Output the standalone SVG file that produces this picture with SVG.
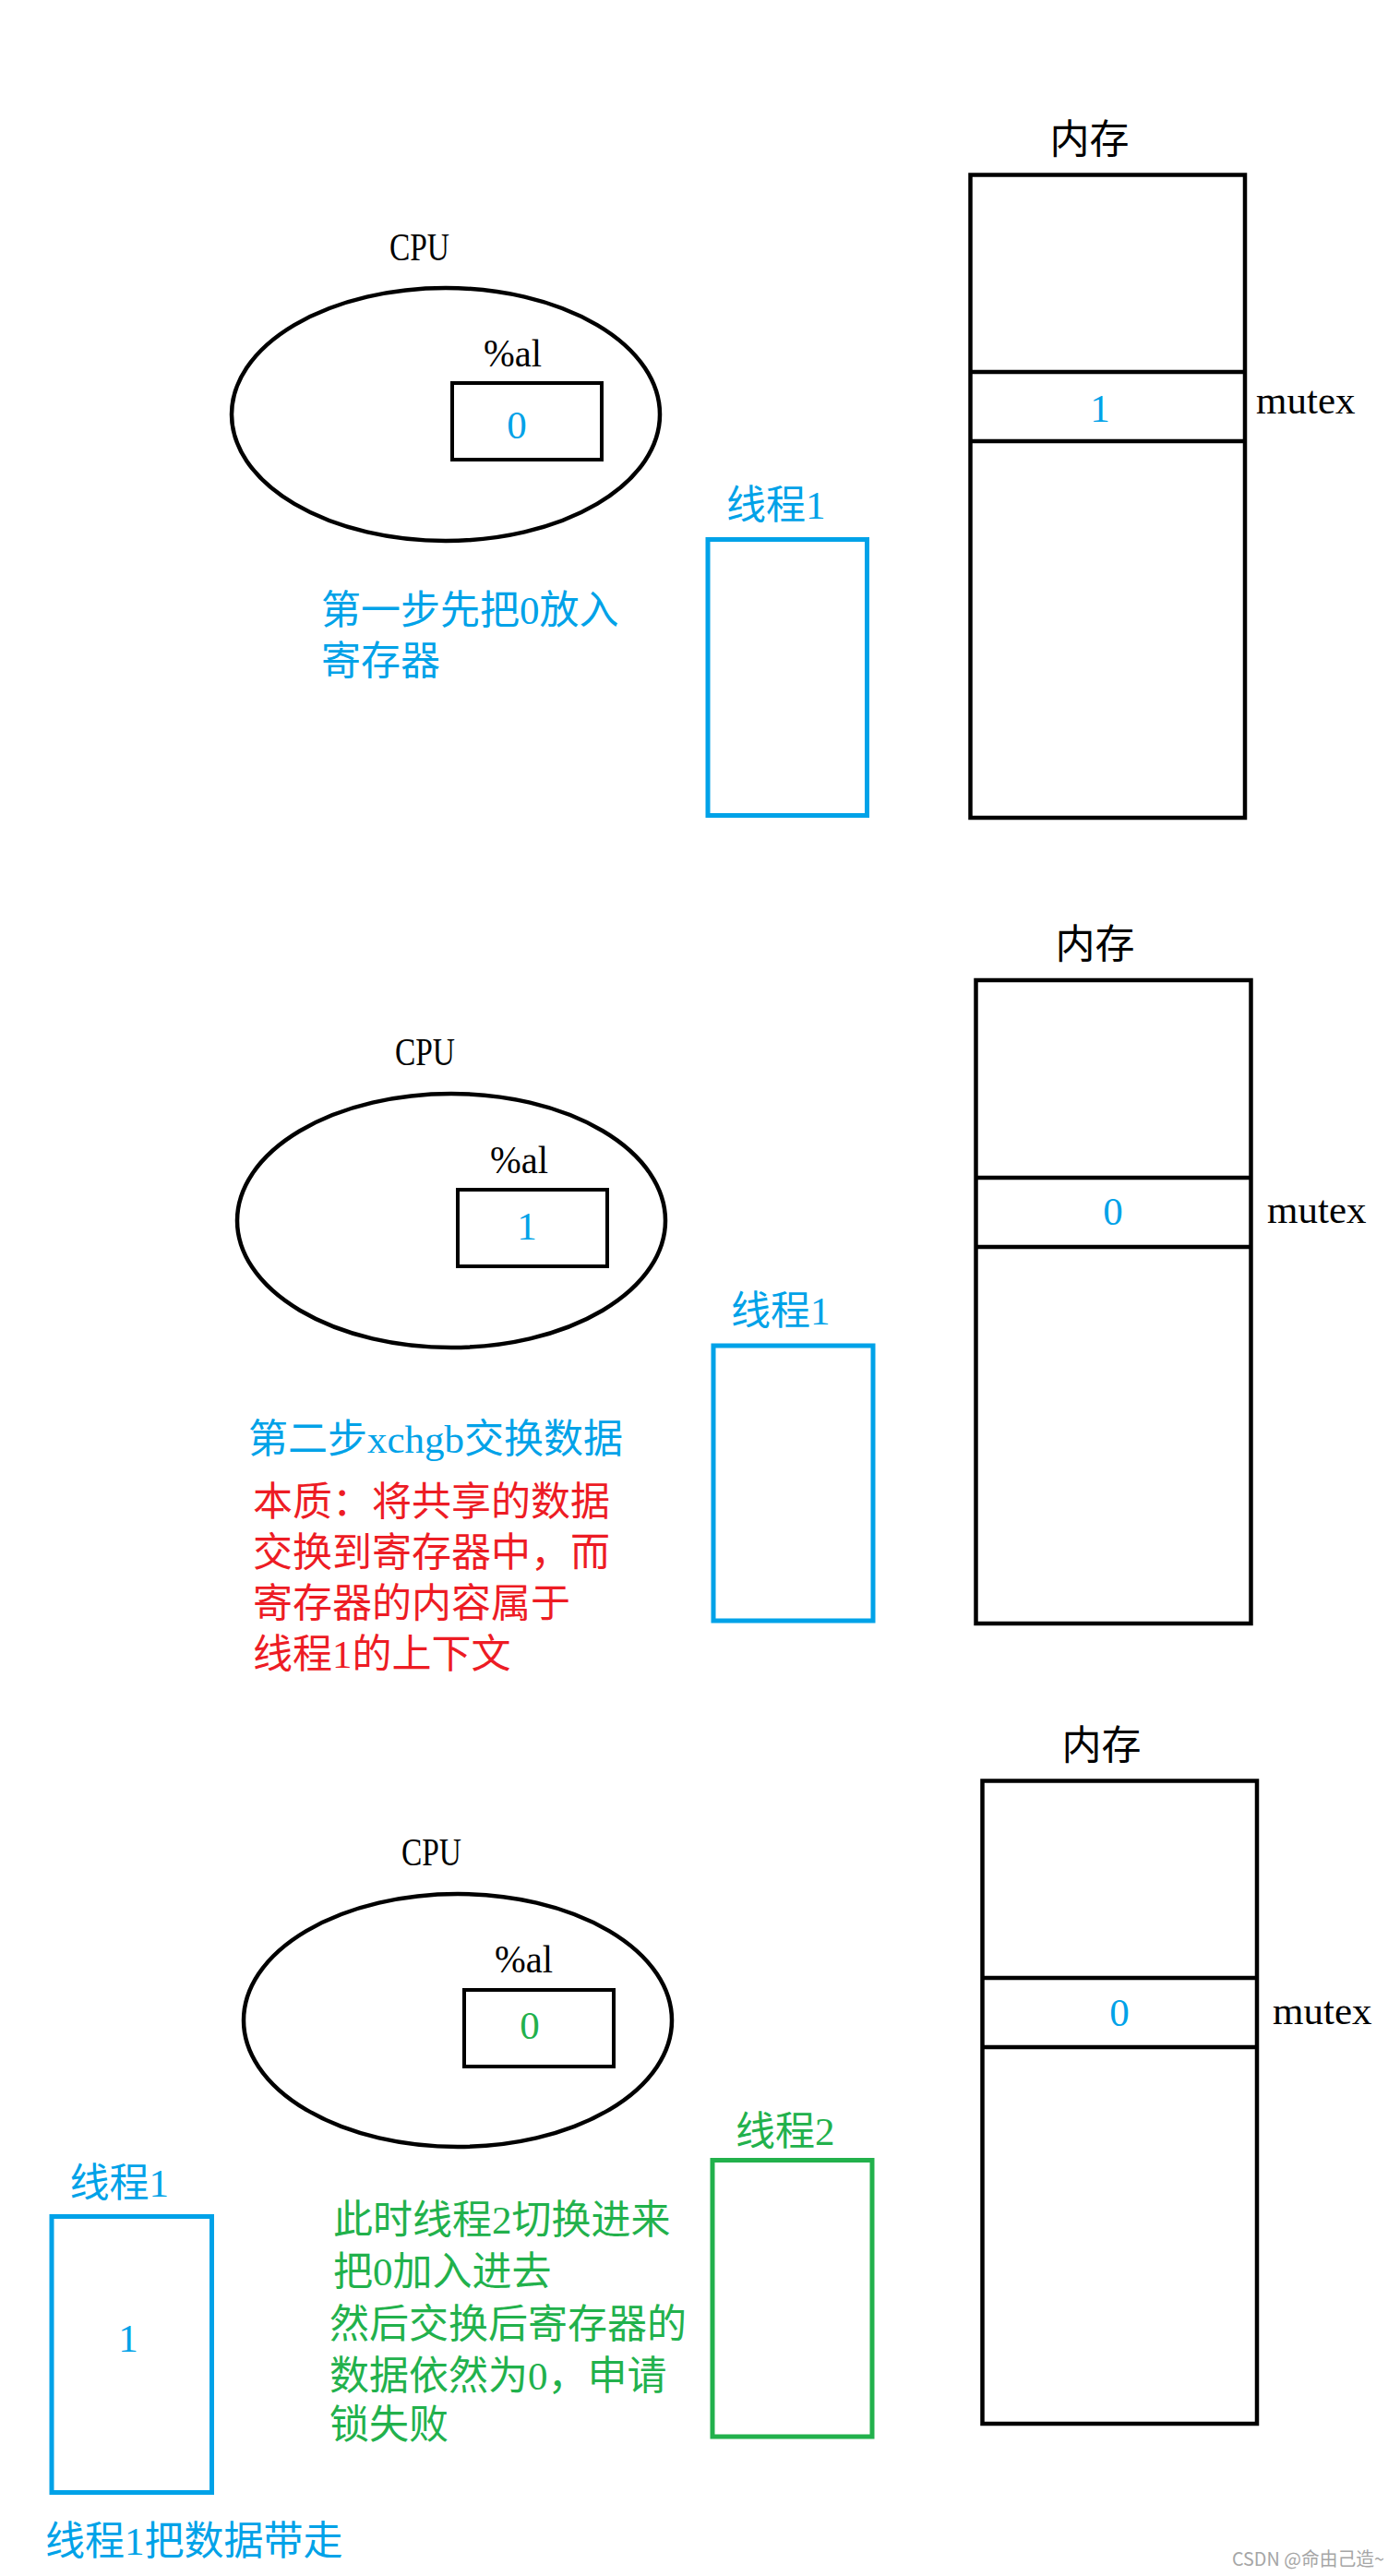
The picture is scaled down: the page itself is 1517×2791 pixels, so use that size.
<svg xmlns="http://www.w3.org/2000/svg" width="1517" height="2791" viewBox="0 0 1517 2791">
<style>
text { font-family: "Liberation Serif", "Noto Sans CJK SC", serif; font-size: 43px; fill: #000; }
.b { fill: #00A2E8; }
.r { fill: #ED1C24; }
.g { fill: #22B14C; }
.mid { text-anchor: middle; }
.shape { fill: none; stroke: #000; stroke-width: 4.5; }
.reg { fill: none; stroke: #000; stroke-width: 4; }
.tb { fill: none; stroke: #00A2E8; stroke-width: 5; }
.tg { fill: none; stroke: #22B14C; stroke-width: 5; }
.wm { font-family: "Noto Sans CJK SC", sans-serif; font-size: 20px; fill: #a6a6a6; }
</style>
<rect x="0" y="0" width="1517" height="2791" fill="#fff"/>

<!-- Panel 1 -->
<g id="p1-cpu">
  <text x="422" y="282" textLength="65" lengthAdjust="spacingAndGlyphs">CPU</text>
  <ellipse cx="483" cy="449" rx="232" ry="137" class="shape"/>
</g>
<g id="p1-register">
  <text x="524" y="397" textLength="63" lengthAdjust="spacingAndGlyphs">%al</text>
  <rect x="490" y="415" width="162" height="83" class="reg"/>
  <text class="b mid" x="560" y="475">0</text>
</g>
<g id="p1-memory">
  <text x="1137.5" y="166">内存</text>
  <rect x="1051.5" y="189.5" width="297.5" height="696.5" class="shape"/>
  <line x1="1051.5" y1="403" x2="1349" y2="403" class="shape"/>
  <line x1="1051.5" y1="478" x2="1349" y2="478" class="shape"/>
  <text class="b mid" x="1192" y="457">1</text>
  <text x="1361" y="448">mutex</text>
</g>
<g id="p1-thread1">
  <text class="b" x="787" y="562">线程1</text>
  <rect x="767" y="584.5" width="172.5" height="299" class="tb"/>
</g>
<g id="p1-note">
  <text class="b" x="348" y="676">第一步先把0放入</text>
  <text class="b" x="348" y="731">寄存器</text>
</g>

<!-- Panel 2 -->
<g id="p2-cpu">
  <text x="428" y="1154" textLength="65" lengthAdjust="spacingAndGlyphs">CPU</text>
  <ellipse cx="489" cy="1322.5" rx="232" ry="137.5" class="shape"/>
</g>
<g id="p2-register">
  <text x="531" y="1271" textLength="63" lengthAdjust="spacingAndGlyphs">%al</text>
  <rect x="496" y="1289" width="162" height="83" class="reg"/>
  <text class="b mid" x="571" y="1343">1</text>
</g>
<g id="p2-memory">
  <text x="1143.5" y="1038">内存</text>
  <rect x="1057.5" y="1062" width="298" height="697" class="shape"/>
  <line x1="1057.5" y1="1276" x2="1355.5" y2="1276" class="shape"/>
  <line x1="1057.5" y1="1351" x2="1355.5" y2="1351" class="shape"/>
  <text class="b mid" x="1206" y="1327">0</text>
  <text x="1373" y="1325">mutex</text>
</g>
<g id="p2-thread1">
  <text class="b" x="792" y="1435">线程1</text>
  <rect x="773" y="1458" width="173" height="298" class="tb"/>
</g>
<g id="p2-note">
  <text class="b" x="269" y="1574">第二步xchgb交换数据</text>
  <text class="r" x="274" y="1642">本质：将共享的数据</text>
  <text class="r" x="274" y="1697">交换到寄存器中，而</text>
  <text class="r" x="274" y="1752">寄存器的内容属于</text>
  <text class="r" x="274" y="1807">线程1的上下文</text>
</g>

<!-- Panel 3 -->
<g id="p3-cpu">
  <text x="435" y="2021" textLength="65" lengthAdjust="spacingAndGlyphs">CPU</text>
  <ellipse cx="496" cy="2189" rx="232" ry="137" class="shape"/>
</g>
<g id="p3-register">
  <text x="536" y="2137" textLength="63" lengthAdjust="spacingAndGlyphs">%al</text>
  <rect x="503" y="2156" width="162" height="83" class="reg"/>
  <text class="g mid" x="574" y="2209">0</text>
</g>
<g id="p3-memory">
  <text x="1150.5" y="1906">内存</text>
  <rect x="1064.5" y="1929.5" width="297.5" height="696.5" class="shape"/>
  <line x1="1064.5" y1="2143" x2="1362" y2="2143" class="shape"/>
  <line x1="1064.5" y1="2218" x2="1362" y2="2218" class="shape"/>
  <text class="b mid" x="1213" y="2195">0</text>
  <text x="1379" y="2193">mutex</text>
</g>
<g id="p3-thread2">
  <text class="g" x="797" y="2324">线程2</text>
  <rect x="772" y="2340.5" width="173" height="299.5" class="tg"/>
</g>
<g id="p3-thread1">
  <text class="b" x="75.5" y="2380">线程1</text>
  <rect x="56" y="2401.5" width="173.5" height="299" class="tb"/>
  <text class="b mid" x="139" y="2548">1</text>
</g>
<g id="p3-note">
  <text class="g" x="361" y="2420">此时线程2切换进来</text>
  <text class="g" x="361" y="2476">把0加入进去</text>
  <text class="g" x="357" y="2533">然后交换后寄存器的</text>
  <text class="g" x="357" y="2589">数据依然为0，申请</text>
  <text class="g" x="357" y="2642">锁失败</text>
</g>
<g id="p3-caption">
  <text class="b" x="49" y="2768">线程1把数据带走</text>
</g>

<g id="connectors"></g>

<text class="wm" x="1335" y="2780" textLength="165" lengthAdjust="spacingAndGlyphs">CSDN @命由己造~</text>
</svg>
